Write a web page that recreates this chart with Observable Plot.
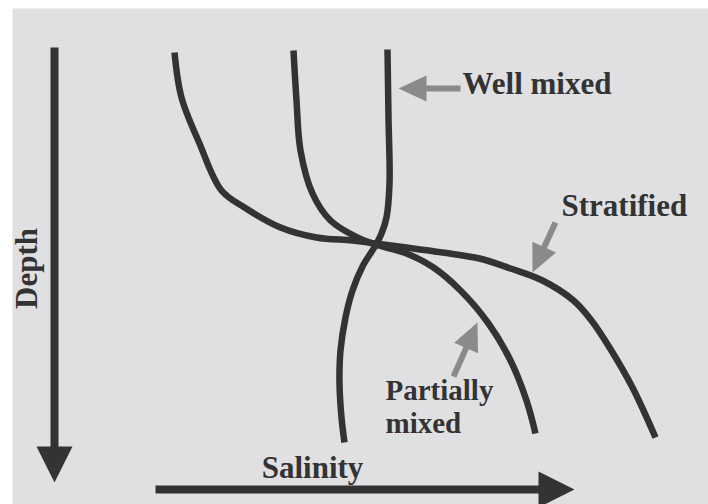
<!DOCTYPE html>
<html><head><meta charset="utf-8">
<script src="https://cdn.jsdelivr.net/npm/d3@7"></script>
<script src="https://cdn.jsdelivr.net/npm/@observablehq/plot@0.6"></script>
<style>html,body{margin:0;padding:0;background:#fff}svg{display:block}</style>
</head><body><div id="chart"></div>
<script>
// Schematic salinity profiles: [salinity, depth] in arbitrary units
const wellMixed = [[387,49],[388,117],[389,183],[386,217],[381,233],[375,245],[362,266],[352,290],[345,317],[340,350],[339,383],[341,417],[344,442]];
const partiallyMixed = [[293,50],[296,100],[300,150],[312,193],[330,220],[357,237],[375,244],[406,253],[433,267],[460,290],[488,323],[510,360],[526,400],[535,433]];
const stratified = [[174,52],[181,97],[199,143],[221,190],[244,207],[280,227],[316,237],[352,240],[375,243],[406,247],[442,252],[479,258],[510,268],[542,280],[573,300],[591,320],[609,347],[632,387],[655,437]];

const series = [
  {name: "Well mixed", points: wellMixed},
  {name: "Partially mixed", points: partiallyMixed},
  {name: "Stratified", points: stratified}
];
const curveRows = series.flatMap(s => s.points.map(([x, y]) => ({name: s.name, x, y})));

const axisArrows = [
  {name: "Depth", x1: 54, y1: 47, x2: 54, y2: 482},
  {name: "Salinity", x1: 155, y1: 489, x2: 574, y2: 489}
];
const labelArrows = [
  {name: "Well mixed", x1: 460, y1: 88, x2: 398, y2: 88},
  {name: "Stratified", x1: 555, y1: 222, x2: 532, y2: 272},
  {name: "Partially mixed", x1: 453, y1: 376, x2: 477, y2: 322}
];
const labelText = ["Well mixed", "Stratified"];
const labelX = [462, 561];
const labelY = [71, 193];
const twoLineText = ["Partially\nmixed"];
const twoLineX = [385];
const twoLineY = [376];
const axisText = ["Salinity", "Depth"];
const axisTextX = [312, 27];
const axisTextY = [468, 268];
const axisTextRotate = [0, -90];

function head(len, hw) {
  return {draw(ctx) { ctx.moveTo(0, 0); ctx.lineTo(-hw, len); ctx.lineTo(hw, len); ctx.closePath(); }};
}
const angle = d => Math.atan2(d.x2 - d.x1, -(d.y2 - d.y1)) * 180 / Math.PI;
function shaftEnd(d, back) {
  const dx = d.x2 - d.x1, dy = d.y2 - d.y1, L = Math.hypot(dx, dy);
  return {...d, ex: d.x2 - dx / L * back, ey: d.y2 - dy / L * back};
}

const dark = "#333333", gray = "#8a8a8a";
const font = {fontFamily: "'Liberation Serif', 'Times New Roman', serif", fontWeight: "bold", fill: "#333"};

const chart = Plot.plot({
  width: 708, height: 504, margin: 0,
  x: {domain: [0, 708], range: [0, 708], axis: null},
  y: {domain: [0, 504], range: [0, 504], axis: null},
  style: {background: "#fff"},
  marks: [
    Plot.frame({fill: "#e0e0e2", stroke: "none", insetLeft: 12, insetTop: 8}),
    // axis arrows
    Plot.link(axisArrows.map(d => shaftEnd(d, 30)), {x1: "x1", y1: "y1", x2: "ex", y2: "ey", stroke: dark, strokeWidth: 8, strokeLinecap: "butt"}),
    Plot.dot(axisArrows, {x: "x2", y: "y2", symbol: head(36, 18), rotate: angle, fill: dark, stroke: "none"}),
    // profiles
    Plot.line(curveRows, {x: "x", y: "y", z: "name", curve: "catmull-rom", stroke: dark, strokeWidth: 6.5, strokeLinecap: "butt"}),
    // label arrows
    Plot.link(labelArrows.map(d => shaftEnd(d, 22)), {x1: "x1", y1: "y1", x2: "ex", y2: "ey", stroke: gray, strokeWidth: 6, strokeLinecap: "butt"}),
    Plot.dot(labelArrows, {x: "x2", y: "y2", symbol: head(28, 13), rotate: angle, fill: gray, stroke: "none"}),
    // labels
    Plot.text(labelText, {x: (d, i) => labelX[i], y: (d, i) => labelY[i], text: d => d, textAnchor: "start", lineAnchor: "top", fontSize: 31, ...font}),
    Plot.text(twoLineText, {x: (d, i) => twoLineX[i], y: (d, i) => twoLineY[i], text: d => d, textAnchor: "start", lineAnchor: "top", lineHeight: 1.14, fontSize: 29, ...font}),
    Plot.text(axisText, {x: (d, i) => axisTextX[i], y: (d, i) => axisTextY[i], text: d => d, rotate: (d, i) => axisTextRotate[i], textAnchor: "middle", lineAnchor: "middle", fontSize: 31, ...font})
  ]
});
document.getElementById("chart").append(chart);
</script>
</body></html>
